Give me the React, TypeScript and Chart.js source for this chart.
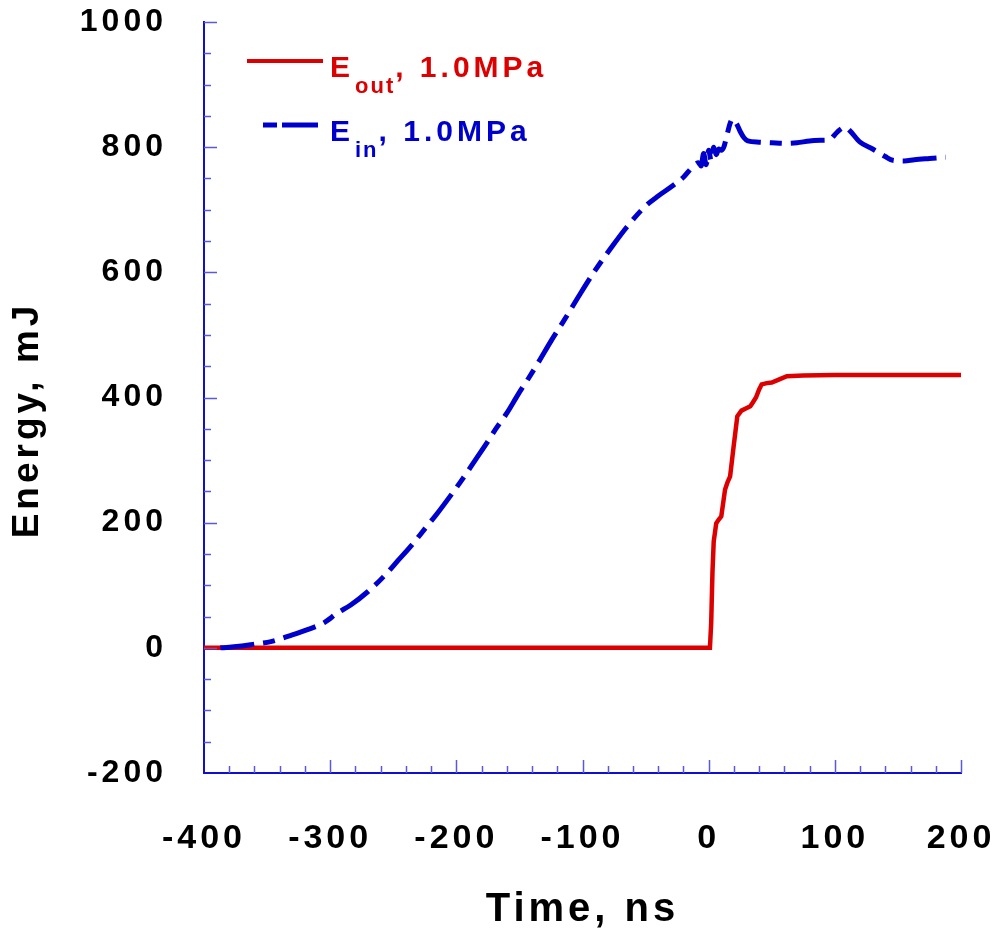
import React, { useEffect, useRef } from "react";
import { Chart, registerables } from "chart.js";

Chart.register(...registerables);

const FONT = '"Liberation Sans", Arial, Helvetica, sans-serif';

// E_in, 1.0 MPa (blue dash)
const timeIn = [-387, -380, -370, -360, -347, -331, -318, -305, -294, -284, -270, -258, -246, -235, -225, -215, -205, -195, -185, -175, -169, -160, -151, -143, -135, -125, -115, -102, -90, -77, -65, -50, -40, -28, -20, -12, -8, -6, -4, -2, 0, 2, 4, 6, 8, 10, 12, 14, 17, 19, 22, 25, 28, 31, 40, 50, 60, 70, 80, 90, 96, 100, 104, 108, 112, 120, 130, 140, 146, 155, 163, 175, 188];
const energyIn = [0, 1, 3, 6, 10, 20, 29, 40, 56, 68, 90, 113, 140, 165, 190, 215, 242, 270, 300, 330, 349, 375, 405, 430, 456, 490, 522, 565, 603, 640, 672, 706, 722, 739, 752, 770, 775, 770, 790, 772, 795, 778, 800, 788, 797, 795, 800, 815, 838, 845, 838, 825, 815, 810, 808, 807, 806, 807, 810, 811, 812, 820, 828, 832, 826, 808, 797, 785, 779, 778, 780, 782, 784];

// E_out, 1.0 MPa (red solid)
const timeOut = [-400, 1, 2, 3, 4, 6, 8, 10, 13, 15, 17, 19.5, 22.7, 26, 29, 33, 35, 37.5, 40, 42, 46, 50, 56, 62, 75, 100, 200];
const energyOut = [0, 0, 40, 120, 170, 199, 205, 210, 253, 265, 274, 317, 370, 379, 382, 386, 392, 400, 413, 421, 423, 424, 429, 434, 435, 436, 436];

const xMin = -400, xMax = 200, xMajor = 100, xMinor = 20;
const yMin = -200, yMax = 1000, yMajor = 200, yMinor = 50;

const xTitle = "Time, ns";
const yTitle = "Energy, mJ";
const legendItems = [
  { main: "E", sub: "out", rest: ", 1.0MPa", color: "#dd0000", dashed: false },
  { main: "E", sub: "in", rest: ", 1.0MPa", color: "#0000cc", dashed: true },
];

const RED = "#dd0000";
const BLUE = "#0000cc";
const AXIS = "#1010cc";
const TICK = "#5a5ad8";

const decor = {
  id: "decor",
  beforeDraw(chart: any) {
    chart.ctx.letterSpacing = "4px";
  },
  afterDraw(chart: any) {
    const ctx = chart.ctx;
    const xs = chart.scales.x;
    const ys = chart.scales.y;
    const area = chart.chartArea;
    ctx.save();
    ctx.letterSpacing = "0px";
    // inward ticks
    ctx.strokeStyle = TICK;
    ctx.lineWidth = 1.5;
    ctx.beginPath();
    for (let v = xMin + xMinor; v <= xMax + 0.001; v += xMinor) {
      const px = Math.round(xs.getPixelForValue(v)) + 0.5;
      const len = Math.abs(v % xMajor) < 0.001 ? 13 : 7;
      ctx.moveTo(px, area.bottom);
      ctx.lineTo(px, area.bottom - len);
    }
    for (let v = yMin + yMinor; v <= yMax + 0.001; v += yMinor) {
      const py = Math.round(ys.getPixelForValue(v)) + 0.5;
      const len = Math.abs(v % yMajor) < 0.001 ? 13 : 7;
      ctx.moveTo(area.left, py);
      ctx.lineTo(area.left + len, py);
    }
    ctx.stroke();

    // y-axis title
    ctx.save();
    ctx.translate(28, 422);
    ctx.rotate(-Math.PI / 2);
    ctx.fillStyle = "#000";
    ctx.font = `bold 37px ${FONT}`;
    ctx.letterSpacing = "4px";
    ctx.textAlign = "center";
    ctx.textBaseline = "middle";
    ctx.fillText(yTitle, 2, 0);
    ctx.restore();

    // legend
    const rows = [
      { lineY: 61, base: 77, subBase: 93 },
      { lineY: 125, base: 141, subBase: 157 },
    ];
    legendItems.forEach((it, i) => {
      const r = rows[i];
      ctx.strokeStyle = it.color;
      ctx.lineCap = "butt";
      if (!it.dashed) {
        ctx.lineWidth = 4;
        ctx.beginPath();
        ctx.moveTo(247, r.lineY);
        ctx.lineTo(323, r.lineY);
        ctx.stroke();
      } else {
        ctx.lineWidth = 5;
        ctx.beginPath();
        ctx.moveTo(263, r.lineY);
        ctx.lineTo(277, r.lineY);
        ctx.moveTo(282, r.lineY);
        ctx.lineTo(318, r.lineY);
        ctx.stroke();
      }
      ctx.fillStyle = it.color;
      ctx.textAlign = "left";
      ctx.textBaseline = "alphabetic";
      ctx.font = `bold 30px ${FONT}`;
      ctx.letterSpacing = "3px";
      ctx.fillText(it.main, 330, r.base);
      ctx.font = `bold 22px ${FONT}`;
      ctx.letterSpacing = "2px";
      ctx.fillText(it.sub, 355, r.subBase);
      const subW = ctx.measureText(it.sub).width;
      ctx.font = `bold 30px ${FONT}`;
      ctx.letterSpacing = "4px";
      ctx.fillText(it.rest, 355 + subW, r.base);
    });
    ctx.restore();
    ctx.letterSpacing = "0px";
  },
};

export default function App() {
  const ref = useRef<HTMLCanvasElement | null>(null);
  useEffect(() => {
    if (!ref.current) return;
    const chart = new Chart(ref.current, {
      type: "line",
      data: {
        datasets: [
          {
            label: "E_in, 1.0MPa",
            data: timeIn.map((t, i) => ({ x: t, y: energyIn[i] })),
            borderColor: BLUE,
            borderWidth: 5,
            borderDash: [34, 9, 12, 9],
            pointRadius: 0,
            cubicInterpolationMode: "monotone",
            fill: false,
          },
          {
            label: "E_out, 1.0MPa",
            data: timeOut.map((t, i) => ({ x: t, y: energyOut[i] })),
            borderColor: RED,
            borderWidth: 4.5,
            pointRadius: 0,
            tension: 0,
            fill: false,
          },
        ],
      },
      options: {
        responsive: false,
        animation: false,
        devicePixelRatio: 1,
        layout: { padding: { left: 0, right: 32, top: 22, bottom: 0 } },
        plugins: { legend: { display: false }, tooltip: { enabled: false }, title: { display: false } },
        scales: {
          x: {
            type: "linear",
            min: xMin,
            max: xMax,
            grid: { display: false, drawTicks: false },
            border: { display: true, color: AXIS, width: 2 },
            ticks: {
              stepSize: xMajor,
              padding: 45,
              color: "#000",
              font: { family: FONT, size: 34, weight: "bold" },
              maxRotation: 0,
              autoSkip: false,
              callback: (v: any) => String(v),
            },
            title: {
              display: true,
              text: xTitle,
              color: "#000",
              font: { family: FONT, size: 40, weight: "bold", lineHeight: 0.9 },
              padding: { top: 0, bottom: 1 },
            },
            afterFit(s: any) {
              s.height = 156;
              s.paddingLeft = 0;
              s.paddingRight = 0;
            },
          },
          y: {
            type: "linear",
            min: yMin,
            max: yMax,
            grid: { display: false, drawTicks: false },
            border: { display: true, color: AXIS, width: 2 },
            ticks: {
              stepSize: yMajor,
              padding: 37,
              color: "#000",
              font: { family: FONT, size: 32, weight: "bold" },
              autoSkip: false,
              callback: (v: any) => String(v),
            },
            title: { display: false, text: yTitle },
            afterFit(s: any) {
              s.width = 204;
              s.paddingTop = 0;
              s.paddingBottom = 0;
            },
          },
        },
      },
      plugins: [decor],
    });
    return () => chart.destroy();
  }, []);
  return (
    <div style={{ position: "fixed", left: 0, top: 0, width: 993, height: 929, background: "#fff" }}>
      <canvas ref={ref} width={993} height={929} />
    </div>
  );
}
